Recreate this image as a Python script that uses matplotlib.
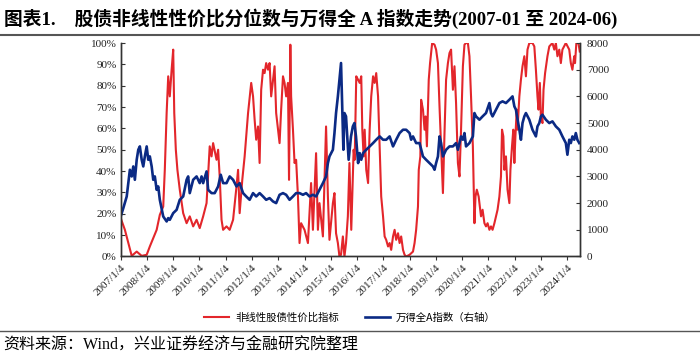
import numpy as np
import pandas as pd
import matplotlib
matplotlib.use("Agg")
import matplotlib.pyplot as plt
from matplotlib.lines import Line2D

# 股债非线性性价比分位数 (decimal year, %)
red_t = [2007.00, 2007.16, 2007.29, 2007.42, 2007.61, 2007.80, 2007.99, 2008.11, 2008.24, 2008.37,
         2008.49, 2008.62, 2008.68, 2008.75, 2008.81, 2008.87, 2008.94, 2009.00, 2009.04, 2009.10,
         2009.16, 2009.25, 2009.38, 2009.51, 2009.63, 2009.76, 2009.89, 2010.01, 2010.14, 2010.27,
         2010.39, 2010.46, 2010.52, 2010.65, 2010.71, 2010.77, 2010.84, 2010.90, 2011.03, 2011.15,
         2011.28, 2011.41, 2011.47, 2011.53, 2011.63, 2011.72, 2011.85, 2011.97, 2012.04, 2012.10,
         2012.16, 2012.23, 2012.29, 2012.35, 2012.42, 2012.48, 2012.54, 2012.61, 2012.67, 2012.73,
         2012.80, 2012.86, 2012.92, 2012.99, 2013.05, 2013.11, 2013.18, 2013.24, 2013.30, 2013.37,
         2013.41, 2013.46, 2013.49, 2013.56, 2013.62, 2013.68, 2013.75, 2013.81, 2013.87, 2014.00,
         2014.13, 2014.25, 2014.32, 2014.44, 2014.51, 2014.57, 2014.70, 2014.82, 2014.89, 2014.95,
         2015.08, 2015.14, 2015.20, 2015.27, 2015.33, 2015.39, 2015.46, 2015.52, 2015.58, 2015.65,
         2015.71, 2015.78, 2015.87, 2015.91, 2015.97, 2016.04, 2016.10, 2016.16, 2016.20, 2016.25,
         2016.29, 2016.35, 2016.42, 2016.48, 2016.54, 2016.61, 2016.67, 2016.73, 2016.80, 2016.86,
         2016.92, 2016.99, 2017.05, 2017.11, 2017.18, 2017.24, 2017.30, 2017.37, 2017.43, 2017.49,
         2017.56, 2017.62, 2017.68, 2017.75, 2017.81, 2017.87, 2018.00, 2018.13, 2018.19, 2018.25,
         2018.32, 2018.35, 2018.41, 2018.44, 2018.51, 2018.57, 2018.61, 2018.66, 2018.73, 2018.78,
         2018.86, 2018.95, 2019.01, 2019.08, 2019.14, 2019.20, 2019.27, 2019.33, 2019.39, 2019.46,
         2019.52, 2019.58, 2019.65, 2019.71, 2019.77, 2019.84, 2019.90, 2019.96, 2020.03, 2020.09,
         2020.15, 2020.22, 2020.28, 2020.34, 2020.41, 2020.47, 2020.51, 2020.56, 2020.63, 2020.72,
         2020.78, 2020.85, 2020.91, 2020.97, 2021.04, 2021.10, 2021.16, 2021.23, 2021.29, 2021.35,
         2021.42, 2021.48, 2021.52, 2021.57, 2021.61, 2021.67, 2021.73, 2021.80, 2021.84, 2021.90,
         2021.95, 2021.99, 2022.03, 2022.08, 2022.11, 2022.18, 2022.24, 2022.30, 2022.37, 2022.43,
         2022.49, 2022.56, 2022.68, 2022.75, 2022.81, 2022.87, 2022.91, 2022.96, 2023.00, 2023.06,
         2023.10, 2023.16, 2023.25, 2023.32, 2023.44, 2023.51, 2023.57, 2023.63, 2023.70, 2023.76,
         2023.82, 2023.95, 2024.08, 2024.14, 2024.20, 2024.27, 2024.30, 2024.35, 2024.43, 2024.48]
red_v = [18.0, 12.5, 6.3, 0.3, 2.3, 0.3, 0.8, 4.7, 8.6, 12.5,
         19.5, 23.4, 40.6, 67.2, 84.4, 75.0, 87.5, 96.9, 67.2, 50.0,
         40.6, 31.3, 20.3, 15.6, 18.8, 14.1, 17.2, 13.3, 18.8, 25.0,
         51.6, 46.9, 53.1, 45.3, 50.0, 37.5, 17.2, 12.5, 14.1, 12.5,
         17.2, 32.8, 40.6, 20.3, 35.9, 46.9, 67.2, 81.3, 75.0, 64.1,
         54.7, 60.9, 43.8, 78.1, 87.5, 85.9, 90.6, 87.5, 90.6, 75.0,
         82.8, 89.1, 67.2, 59.4, 53.1, 68.8, 84.4, 81.3, 75.0, 81.3,
         35.9, 99.2, 75.0, 59.4, 43.8, 45.3, 28.1, 6.3, 15.6, 12.5,
         6.3, 34.4, 12.5, 48.4, 12.5, 25.0, 9.4, 60.9, 28.1, 7.8,
         25.0, 29.7, 10.9, 6.3, 0.0, 0.8, 9.4, 0.0, 6.3, 18.8,
         43.8, 12.5, 50.0, 45.3, 84.4, 82.8, 81.3, 84.4, 59.4, 46.9,
         59.4, 40.6, 34.4, 59.4, 75.0, 84.4, 81.3, 85.9, 75.0, 51.6,
         28.1, 18.8, 9.4, 7.8, 4.7, 6.3, 3.1, 9.4, 12.5, 7.8,
         10.9, 6.3, 9.4, 3.1, 0.8, 0.0, 0.8, 2.3, 6.3, 12.5,
         23.4, 40.6, 46.9, 73.4, 68.8, 59.4, 65.6, 51.6, 82.8, 90.6,
         100.0, 99.2, 96.9, 90.6, 70.3, 51.6, 29.7, 57.8, 82.8, 90.6,
         95.3, 96.9, 78.1, 89.1, 71.9, 43.8, 37.5, 59.4, 89.1, 99.2,
         100.0, 100.0, 93.8, 75.0, 51.6, 15.6, 28.1, 31.3, 28.1, 18.8,
         21.9, 15.6, 14.1, 15.6, 12.5, 14.1, 12.5, 15.6, 18.8, 21.9,
         28.1, 37.5, 59.4, 56.3, 40.6, 46.9, 31.3, 25.0, 40.6, 51.6,
         59.4, 43.8, 56.3, 68.8, 59.4, 75.0, 82.8, 89.1, 93.8, 84.4,
         96.9, 100.0, 100.0, 98.4, 87.5, 75.0, 68.8, 81.3, 65.6, 62.5,
         78.1, 85.9, 93.8, 98.4, 100.0, 96.9, 100.0, 93.8, 96.9, 90.6,
         96.9, 100.0, 96.9, 90.6, 87.5, 93.8, 90.6, 100.0, 100.0, 96.0]

# 万得全A指数 (decimal year, index points)
blue_t = [2007.00, 2007.10, 2007.23, 2007.35, 2007.42, 2007.48, 2007.54, 2007.61, 2007.67, 2007.73,
          2007.80, 2007.86, 2007.92, 2007.99, 2008.05, 2008.11, 2008.18, 2008.24, 2008.30, 2008.37,
          2008.43, 2008.49, 2008.62, 2008.75, 2008.81, 2008.87, 2009.00, 2009.13, 2009.25, 2009.38,
          2009.51, 2009.57, 2009.63, 2009.76, 2009.89, 2010.01, 2010.08, 2010.14, 2010.27, 2010.33,
          2010.46, 2010.58, 2010.71, 2010.81, 2010.90, 2011.03, 2011.15, 2011.28, 2011.41, 2011.53,
          2011.66, 2011.78, 2011.91, 2012.04, 2012.16, 2012.29, 2012.42, 2012.54, 2012.67, 2012.80,
          2012.92, 2013.05, 2013.18, 2013.30, 2013.43, 2013.56, 2013.68, 2013.81, 2013.94, 2014.06,
          2014.19, 2014.32, 2014.44, 2014.57, 2014.70, 2014.82, 2014.89, 2014.95, 2015.08, 2015.14,
          2015.20, 2015.27, 2015.33, 2015.39, 2015.46, 2015.48, 2015.52, 2015.58, 2015.65, 2015.68,
          2015.77, 2015.84, 2015.90, 2015.96, 2016.00, 2016.04, 2016.10, 2016.16, 2016.23, 2016.35,
          2016.48, 2016.61, 2016.73, 2016.86, 2016.99, 2017.11, 2017.24, 2017.37, 2017.49, 2017.62,
          2017.75, 2017.87, 2018.00, 2018.06, 2018.13, 2018.25, 2018.38, 2018.51, 2018.63, 2018.76,
          2018.89, 2018.95, 2019.01, 2019.08, 2019.14, 2019.20, 2019.27, 2019.33, 2019.39, 2019.52,
          2019.65, 2019.77, 2019.84, 2019.90, 2019.96, 2020.03, 2020.09, 2020.15, 2020.28, 2020.41,
          2020.47, 2020.53, 2020.66, 2020.78, 2020.91, 2021.04, 2021.10, 2021.16, 2021.29, 2021.42,
          2021.54, 2021.67, 2021.80, 2021.92, 2021.99, 2022.05, 2022.18, 2022.24, 2022.30, 2022.37,
          2022.43, 2022.56, 2022.68, 2022.81, 2022.87, 2022.94, 2023.00, 2023.06, 2023.19, 2023.32,
          2023.44, 2023.57, 2023.70, 2023.82, 2023.95, 2024.01, 2024.08, 2024.14, 2024.20, 2024.27,
          2024.33, 2024.39, 2024.46]
blue_v = [1500, 1813, 2250, 3250, 3000, 3375, 2875, 3625, 4000, 4125,
          3625, 3375, 3750, 4125, 3625, 3750, 3375, 2875, 3000, 2500,
          2625, 2125, 1500, 1313, 1438, 1375, 1625, 1750, 2125, 2250,
          2875, 3000, 2375, 2875, 3000, 2750, 3000, 2750, 3188, 2500,
          2375, 2375, 2625, 3063, 2750, 2750, 3000, 2875, 2625, 2750,
          2375, 2250, 2125, 2375, 2250, 2375, 2250, 2125, 2188, 2063,
          2000, 2313, 2375, 2313, 2125, 2250, 2375, 2375, 2313, 2375,
          2250, 2313, 2250, 2500, 2750, 3000, 3500, 3750, 4000, 4625,
          5375, 6000, 6625, 7250, 4750, 4000, 5375, 5250, 4125, 3625,
          4500, 4875, 5000, 4500, 4000, 3500, 3875, 3625, 3875, 4000,
          4125, 4250, 4375, 4500, 4375, 4375, 4500, 4125, 4375, 4625,
          4750, 4750, 4625, 4375, 4500, 4250, 4250, 3750, 3625, 3500,
          3375, 3250, 3500, 3750, 4500, 4250, 3750, 3875, 4000, 4125,
          4125, 4250, 4000, 4250, 4500, 4375, 4625, 4125, 4250, 4500,
          5375, 5250, 5125, 5250, 5375, 5750, 5375, 5250, 5500, 5750,
          5813, 5750, 5875, 6000, 5625, 5500, 4750, 4375, 5000, 5250,
          5375, 5125, 4750, 4500, 4875, 5000, 5250, 5313, 5125, 5000,
          5063, 4875, 4750, 4500, 4250, 3813, 4375, 4250, 4500, 4375,
          4625, 4375, 4250]

tick_years = list(range(2007, 2025))
tick_labels = [f"{y}/1/4" for y in tick_years]

base = pd.Timestamp("2007-01-04")


def to_dates(t):
    return base + pd.to_timedelta((np.array(t) - 2007) * 365.25, unit="D")


red_color = "#E3262B"
blue_color = "#0B2A84"
num_font = ["Liberation Serif", "Noto Sans CJK SC"]
cjk_font = ["Noto Sans CJK SC", "DejaVu Sans"]

fig = plt.figure(figsize=(7.0, 3.56), dpi=100)
ax = fig.add_axes([0.1724, 0.2795, 0.6562, 0.5997])
ax2 = ax.twinx()

l1, = ax.plot(to_dates(red_t), np.array(red_v) / 100, color=red_color, lw=1.5)
l2, = ax2.plot(to_dates(blue_t), blue_v, color=blue_color, lw=1.9)

ax.set_xlim(base, to_dates([2024.49])[0])
ax.set_ylim(0, 1)
ax2.set_ylim(0, 8000)
ax.set_yticks(np.arange(0, 1.01, 0.1))
ax.set_yticklabels([f"{int(round(v * 100))}%" for v in np.arange(0, 1.01, 0.1)])
ax2.set_yticks(range(0, 8001, 1000))
ax.set_xticks([pd.Timestamp(f"{y}-01-04") for y in tick_years])
ax.set_xticklabels(tick_labels, rotation=45, ha="right", rotation_mode="anchor")

for a in (ax, ax2):
    a.spines["top"].set_visible(False)
    for s in ("left", "right", "bottom"):
        a.spines[s].set_color("#333333")
        a.spines[s].set_linewidth(1.0)
    for lab in a.get_yticklabels() + a.get_xticklabels():
        lab.set_family(num_font)
        lab.set_fontsize(8)
ax.tick_params(axis="y", direction="in", length=3, pad=3, colors="#333333", labelcolor="#222222")
ax2.tick_params(axis="y", direction="in", length=3, pad=5, colors="#333333", labelcolor="#222222")
ax.tick_params(axis="x", direction="out", length=3, pad=2, colors="#333333", labelcolor="#222222")

fig.legend([l1, l2], ["非线性股债性价比指标", "万得全A指数（右轴）"],
           loc="center", bbox_to_anchor=(0.5, 0.107), ncol=2, frameon=False,
           handlelength=2.4, columnspacing=2.4, handletextpad=0.6,
           prop={"family": cjk_font, "size": 7.5})

fig.text(0.006, 0.948, "图表1.    股债非线性性价比分位数与万得全 A 指数走势(2007-01 至 2024-06)",
         fontsize=13.5, fontweight="bold", family=num_font, va="center", ha="left")
fig.add_artist(Line2D([0, 1], [0.902, 0.902], color="#555555", lw=1.5))
fig.add_artist(Line2D([0, 1], [0.070, 0.070], color="#555555", lw=1.0))
fig.text(0.004, 0.030, "资料来源：Wind，兴业证券经济与金融研究院整理",
         fontsize=11.5, family=num_font, va="center", ha="left")

fig.savefig("out.png", dpi=100)
